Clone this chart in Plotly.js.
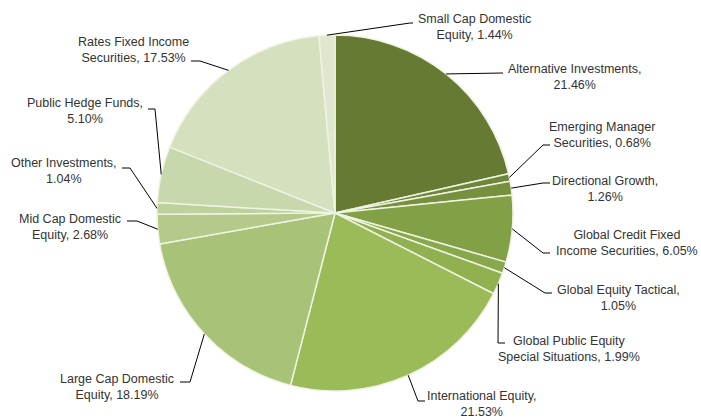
<!DOCTYPE html>
<html>
<head>
<meta charset="utf-8">
<script src="https://cdn.plot.ly/plotly-3.0.1.min.js"></script>
<style>html,body{margin:0;padding:0;background:#fff;}#chart{width:701px;height:419px;}</style>
</head>
<body>
<div id="chart"></div>
<script>
// ---- data ----
const categories = [
  "Alternative Investments",
  "Emerging Manager Securities",
  "Directional Growth",
  "Global Credit Fixed Income Securities",
  "Global Equity Tactical",
  "Global Public Equity Special Situations",
  "International Equity",
  "Large Cap Domestic Equity",
  "Mid Cap Domestic Equity",
  "Other Investments",
  "Public Hedge Funds",
  "Rates Fixed Income Securities",
  "Small Cap Domestic Equity"
];
const values = [21.46, 0.68, 1.26, 6.05, 1.05, 1.99, 21.53, 18.19, 2.68, 1.04, 5.10, 17.53, 1.44];
const labelTexts = [
  "Alternative Investments,<br>21.46%",
  "Emerging Manager<br>Securities, 0.68%",
  "Directional Growth,<br>1.26%",
  "Global Credit Fixed<br>Income Securities, 6.05%",
  "Global Equity Tactical,<br>1.05%",
  "Global Public Equity<br>Special Situations, 1.99%",
  "International Equity,<br>21.53%",
  "Large Cap Domestic<br>Equity, 18.19%",
  "Mid Cap Domestic<br>Equity, 2.68%",
  "Other Investments,<br>1.04%",
  "Public Hedge Funds,<br>5.10%",
  "Rates Fixed Income<br>Securities, 17.53%",
  "Small Cap Domestic<br>Equity, 1.44%"
];
const colors = ["#677a33","#6f863a","#77903f","#82a046","#89a84b","#91b050","#9bbb59","#a8c277","#b3ca8a","#bdd19b","#c7d8ac","#d4e0be","#dfe7cf"];

// ---- layout constants (pixels) ----
const W = 701, H = 419;
const CX = 335, CY = 213, R = 178;
// per-label: text centre, elbow point, end point
const labelPos = [
  {t:[574,77],  e:[503,73],  n:[503,73]},
  {t:[602,135], e:[543,145], n:[550,145]},
  {t:[605,189], e:[543,183], n:[550,183]},
  {t:[627,243], e:[543,253], n:[550,253]},
  {t:[618,298], e:[545,293], n:[552,293]},
  {t:[569,349], e:[498,343], n:[505,343]},
  {t:[482,404], e:[418,401], n:[425,401]},
  {t:[117,387], e:[190,382], n:[180,382]},
  {t:[70,227],  e:[137,221], n:[127,221]},
  {t:[64,171],  e:[130,168], n:[122,168]},
  {t:[85,111],  e:[155,109], n:[148,109]},
  {t:[133,50],  e:[200,61],  n:[191,61]},
  {t:[474,27],  e:[410,23],  n:[413,23]}
];

const px = x => x / W;
const py = y => 1 - y / H;

const total = values.reduce((a,b)=>a+b,0);
let cum = 0;
const shapes = [], annotations = [];
values.forEach((v,i) => {
  const mid = (cum + v/2) / total * 2 * Math.PI;
  cum += v;
  const ex = CX + R * Math.sin(mid), ey = CY - R * Math.cos(mid);
  const L = labelPos[i];
  shapes.push({
    type:'path', xref:'paper', yref:'paper',
    path:`M ${px(ex)},${py(ey)} L ${px(L.e[0])},${py(L.e[1])} L ${px(L.n[0])},${py(L.n[1])}`,
    line:{color:'#000000', width:1}
  });
  annotations.push({
    xref:'paper', yref:'paper', x:px(L.t[0]), y:py(L.t[1]),
    xanchor:'center', yanchor:'middle', showarrow:false, align:'center',
    borderpad:0,
    text:labelTexts[i],
    font:{family:'Liberation Sans, Arial, sans-serif', size:12.5, color:'#333333'}
  });
});

const trace = {
  type:'pie', labels:categories, values:values, sort:false,
  direction:'clockwise', rotation:0,
  marker:{colors:colors, line:{color:'#eef3e2', width:1.5}},
  textinfo:'none', hoverinfo:'label+percent',
  domain:{x:[(CX-R)/W,(CX+R)/W], y:[(H-CY-R)/H,(H-CY+R)/H]}
};

Plotly.newPlot('chart',[trace],{
  width:W, height:H, margin:{l:0,r:0,t:0,b:0},
  showlegend:false, paper_bgcolor:'#ffffff',
  shapes:shapes, annotations:annotations
},{staticPlot:true});
</script>
</body>
</html>
